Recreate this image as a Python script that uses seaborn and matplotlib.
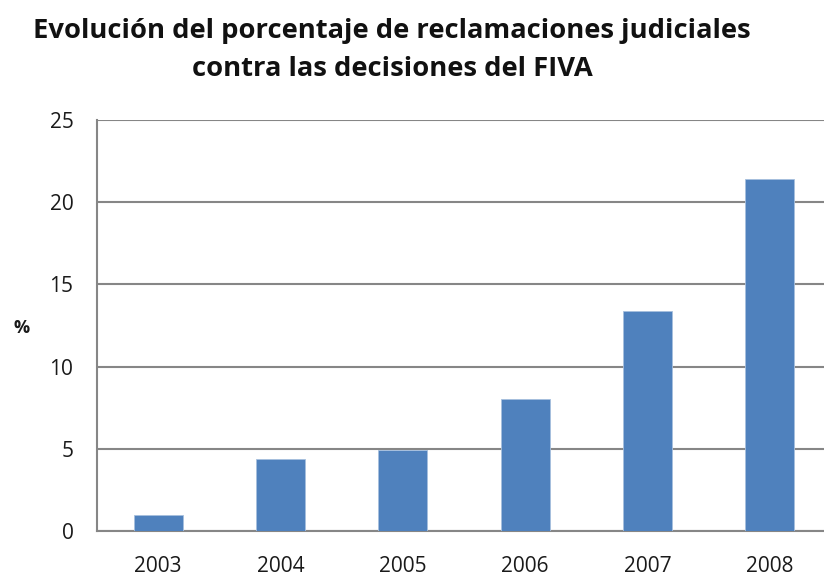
import matplotlib
matplotlib.use("Agg")
import matplotlib.pyplot as plt
import seaborn as sns
import pandas as pd
from matplotlib.ticker import FixedLocator

years = ["2003", "2004", "2005", "2006", "2007", "2008"]
percent = [1.0, 4.4, 4.9, 8.0, 13.4, 21.4]

title = "Evolución del porcentaje de reclamaciones judiciales\ncontra las decisiones del FIVA"
y_label = "%"

sns.set_style("white")
plt.rcParams['font.family'] = ['Open Sans', 'DejaVu Sans']

df = pd.DataFrame({"year": years, "percent": percent})

fig = plt.figure(figsize=(8.24, 5.76), dpi=100)
ax = fig.add_axes([97 / 824, 45 / 576, 734 / 824, 411 / 576])

axis_grey = "#868686"

sns.barplot(data=df, x="year", y="percent", color="#4F81BD", width=0.4,
            saturation=1, edgecolor="#A7C0DE", linewidth=0.6, ax=ax, zorder=3)

ax.set_ylim(0, 25)
ax.set_xlim(-0.5, len(years) - 0.5)
ax.set_yticks([0, 5, 10, 15, 20, 25])
ax.yaxis.grid(True, color=axis_grey, linewidth=1.5, zorder=0)
ax.set_axisbelow(True)

# category boundary ticks like a spreadsheet chart
ax.xaxis.set_minor_locator(FixedLocator([i - 0.5 for i in range(len(years) + 1)]))
ax.tick_params(axis="x", which="major", length=0, pad=18, labelsize=15, labelcolor="#1a1a1a")
ax.tick_params(axis="x", which="minor", length=7, width=1.5, color=axis_grey, direction="out")
ax.tick_params(axis="y", length=7, width=1.5, color=axis_grey, direction="out",
               pad=10, labelsize=15, labelcolor="#1a1a1a")

for side in ["top", "right"]:
    ax.spines[side].set_visible(False)
for side in ["left", "bottom"]:
    ax.spines[side].set_color(axis_grey)
    ax.spines[side].set_linewidth(1.5)

ax.set_xlabel("")
ax.set_ylabel("")
fig.text(22 / 824, 1 - 328 / 576, y_label, fontsize=13, fontweight="bold",
         ha="center", va="center", color="#1a1a1a")

fig.text(392 / 824, 1 - 50 / 576, title, fontsize=19.7, fontweight="bold",
         ha="center", va="center", linespacing=1.65, color="#111111")

fig.savefig("out.png", dpi=100, facecolor="white")
